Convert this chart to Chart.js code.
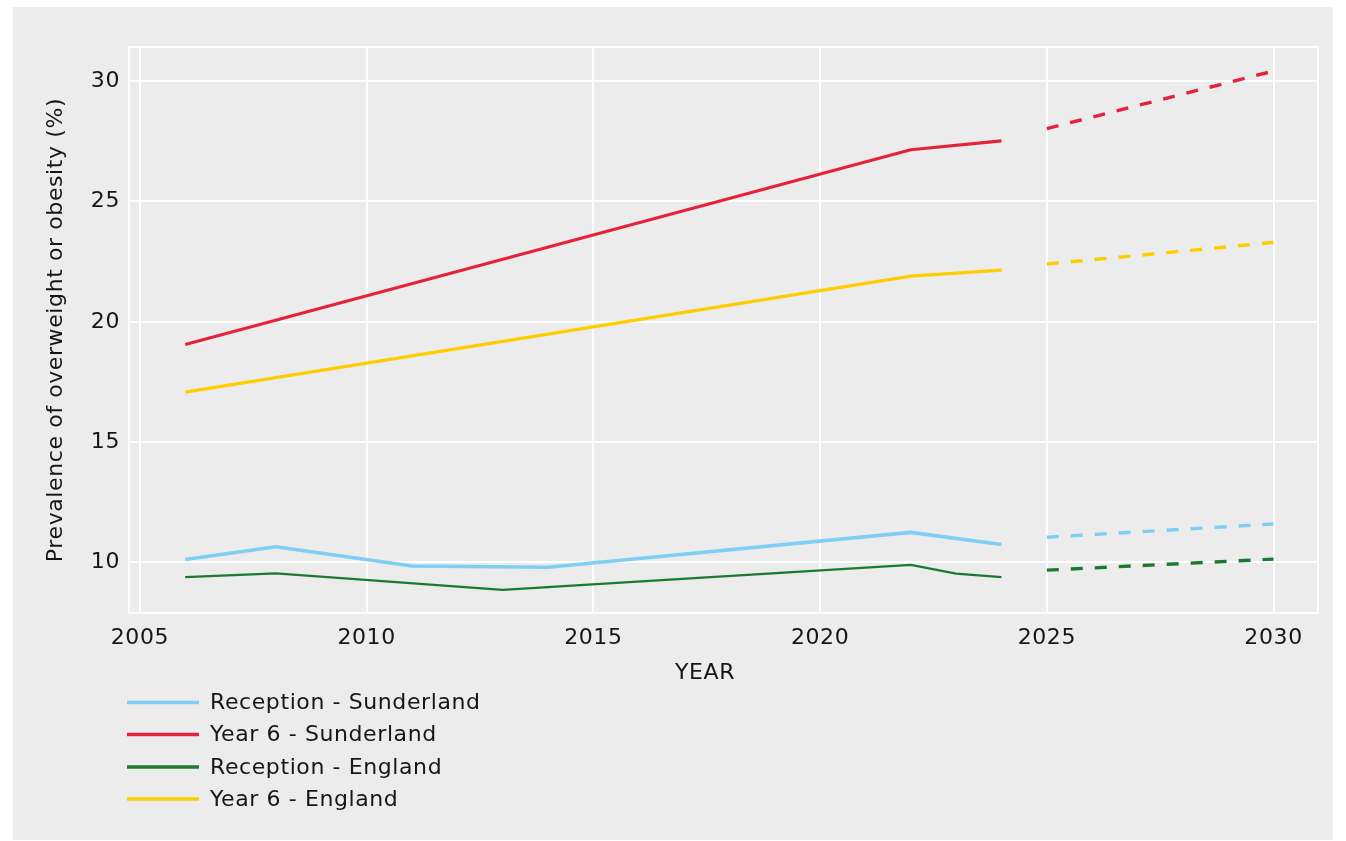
<!DOCTYPE html>
<html>
<head>
<meta charset="utf-8">
<script src="https://cdn.jsdelivr.net/npm/chart.js@4/dist/chart.umd.min.js"></script>
<style>
  html, body { margin: 0; padding: 0; background: #ffffff; }
  #panel { position: absolute; left: 13px; top: 7px; width: 1320px; height: 833px; background: #ececec; }
  canvas { display: block; }
</style>
</head>
<body>
<div id="panel"><canvas id="c" width="1320" height="833"></canvas></div>
<script>
// ---- data ----
const seriesLabels = ["Reception - Sunderland", "Year 6 - Sunderland", "Reception - England", "Year 6 - England"];
const seriesColors = ["#7fcff5", "#e6223a", "#1b7a32", "#ffcc00"];

const recSundYears = [2006, 2008, 2011, 2014, 2022, 2024];
const recSundValues = [10.12, 10.65, 9.85, 9.8, 11.25, 10.75];

const y6SundYears = [2006, 2022, 2024];
const y6SundValues = [19.06, 27.15, 27.52];

const recEngYears = [2006, 2008, 2013, 2022, 2023, 2024];
const recEngValues = [9.39, 9.55, 8.86, 9.9, 9.54, 9.39];

const y6EngYears = [2006, 2022, 2024];
const y6EngValues = [17.08, 21.9, 22.15];

const projYears = [2025, 2030];
const recSundProj = [11.05, 11.6];
const y6SundProj = [28.03, 30.42];
const recEngProj = [9.68, 10.14];
const y6EngProj = [22.4, 23.3];

const xTicks = [2005, 2010, 2015, 2020, 2025, 2030];
const yTicks = [10, 15, 20, 25, 30];

const xTitle = "YEAR";
const yTitle = "Prevalence of overweight or obesity (%)";

// ---- build ----
const pts = (xs, ys) => xs.map((x, i) => ({ x: x, y: ys[i] }));
const FONT = "'DejaVu Sans', sans-serif";
const TEXT = "#161616";
const FS = 22;
const LS = '0.6px';

const solidWidths = [3.6, 3.2, 2.3, 3.2];
const dashWidths = [3.4, 3.4, 3.4, 3.4];

const actual = [pts(recSundYears, recSundValues), pts(y6SundYears, y6SundValues), pts(recEngYears, recEngValues), pts(y6EngYears, y6EngValues)];
const proj = [pts(projYears, recSundProj), pts(projYears, y6SundProj), pts(projYears, recEngProj), pts(projYears, y6EngProj)];

const datasets = [];
actual.forEach((d, i) => datasets.push({
  label: seriesLabels[i], data: d, borderColor: seriesColors[i], backgroundColor: seriesColors[i],
  borderWidth: solidWidths[i], pointRadius: 0, tension: 0, fill: false, borderJoinStyle: 'round'
}));
proj.forEach((d, i) => datasets.push({
  label: seriesLabels[i] + " (projection)", data: d, borderColor: seriesColors[i], backgroundColor: seriesColors[i],
  borderWidth: dashWidths[i], borderDash: [12, 12], pointRadius: 0, tension: 0, fill: false
}));

const legendPlugin = {
  id: 'stackLegend',
  afterDraw(chart) {
    const ctx = chart.ctx;
    ctx.save();
    ctx.letterSpacing = LS;
    const x0 = 114, x1 = 186, tx = 197;
    const rows = [695.5, 727.5, 760, 792];
    ctx.font = FS + "px " + FONT;
    ctx.textBaseline = 'middle';
    ctx.textAlign = 'left';
    for (let i = 0; i < seriesLabels.length; i++) {
      ctx.strokeStyle = seriesColors[i];
      ctx.lineWidth = 3.5;
      ctx.beginPath();
      ctx.moveTo(x0, rows[i]);
      ctx.lineTo(x1, rows[i]);
      ctx.stroke();
      ctx.fillStyle = TEXT;
      ctx.fillText(seriesLabels[i], tx, rows[i] + 1);
    }
    // x axis title
    ctx.textAlign = 'center';
    ctx.fillText(xTitle, 692, 666);
    ctx.restore();
  }
};

new Chart(document.getElementById('c'), {
  type: 'line',
  data: { datasets: datasets },
  options: {
    responsive: false,
    animation: false,
    layout: { padding: { top: 40, right: 15, bottom: 142, left: 0 } },
    plugins: { legend: { display: false }, tooltip: { enabled: false } },
    scales: {
      x: {
        type: 'linear', min: 2004.76, max: 2030.98,
        afterBuildTicks: s => { s.ticks = xTicks.map(v => ({ value: v })); },
        afterFit: s => { s.height = 85; },
        grid: { color: '#ffffff', lineWidth: 2, drawTicks: false },
        border: { display: true, color: '#ffffff', width: 2 },
        ticks: { padding: 12, color: TEXT, font: { family: FONT, size: FS }, maxRotation: 0, callback: v => String(v) }
      },
      y: {
        type: 'linear', min: 7.9, max: 31.42,
        afterBuildTicks: s => { s.ticks = yTicks.map(v => ({ value: v })); },
        afterFit: s => { s.width = 116; },
        grid: { color: '#ffffff', lineWidth: 2, drawTicks: false },
        border: { display: true, color: '#ffffff', width: 2 },
        title: { display: true, text: yTitle, color: TEXT, font: { family: FONT, size: FS }, padding: { top: 30, bottom: 0 } },
        ticks: { padding: 9, color: TEXT, font: { family: FONT, size: FS }, callback: v => String(v) }
      }
    }
  },
  plugins: [legendPlugin, {
    id: 'frame',
    beforeDraw(chart) {
      const a = chart.chartArea, ctx = chart.ctx;
      ctx.letterSpacing = LS;
      ctx.save();
      ctx.strokeStyle = '#ffffff'; ctx.lineWidth = 2;
      ctx.strokeRect(a.left, a.top, a.right - a.left, a.bottom - a.top);
      ctx.restore();
    }
  }]
});
</script>
</body>
</html>
